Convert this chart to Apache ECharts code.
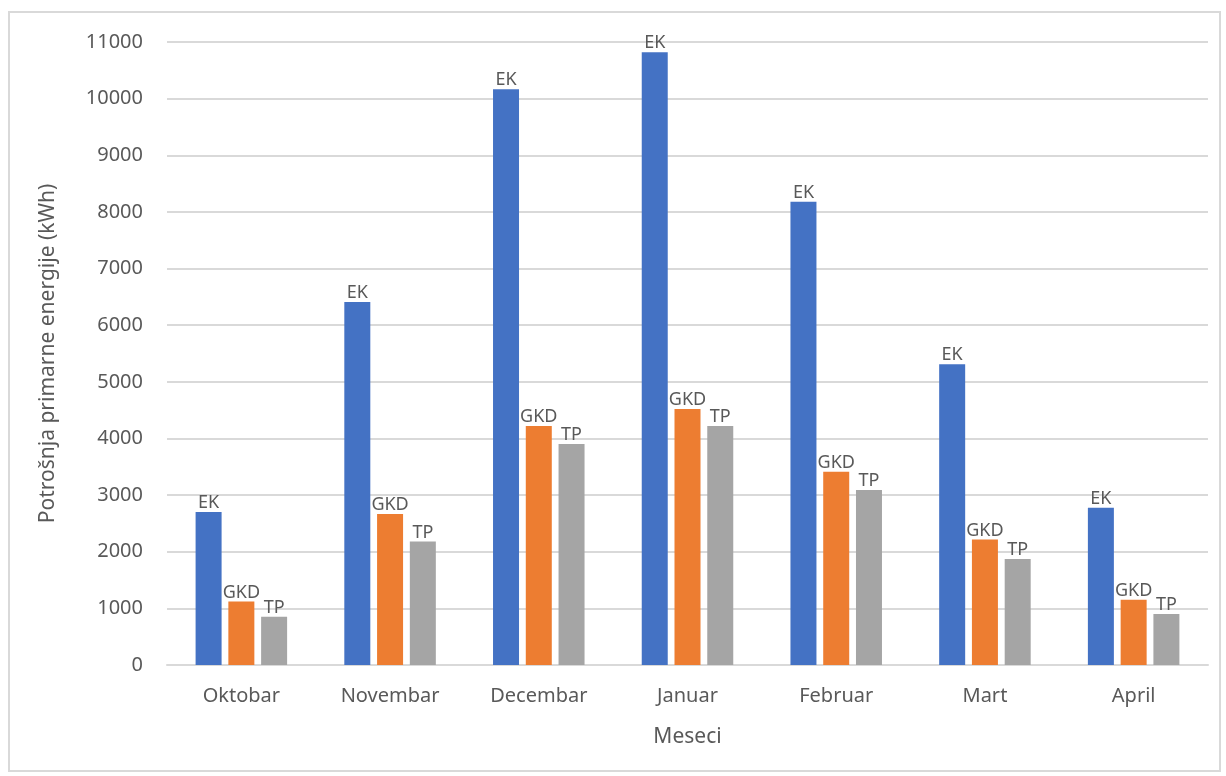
<!DOCTYPE html>
<html>
<head>
<meta charset="utf-8">
<script src="https://cdn.jsdelivr.net/npm/echarts@6/dist/echarts.min.js"></script>
<style>
  html, body { margin: 0; padding: 0; background: #fff; }
  #frame {
    position: absolute; left: 8px; top: 11px;
    width: 1209px; height: 757px;
    border: 2px solid #d9d9d9;
  }
  #chart { position: absolute; left: 0; top: 0; width: 1226px; height: 776px; }
</style>
</head>
<body>
<div id="frame"></div>
<div id="chart"></div>
<script>
// meseci (kategorije)
const months = ["Oktobar", "Novembar", "Decembar", "Januar", "Februar", "Mart", "April"];
// potrošnja primarne energije po sistemu (kWh)
const ekValues  = [2700, 6410, 10165, 10820, 8178, 5310, 2775];
const gkdValues = [1120, 2665, 4220, 4520, 3410, 2215, 1150];
const tpValues  = [850, 2180, 3900, 4220, 3090, 1870, 900];
const seriesNames = ["EK", "GKD", "TP"];

var textColor = "#595959";
var fontName = "Noto Sans";

function makeSeries(name, values, color) {
  return {
    name: name,
    type: "bar",
    barWidth: 26,
    barGap: "26%",
    data: values,
    itemStyle: { color: color },
    label: {
      show: true,
      position: "top",
      distance: 0,
      formatter: name,
      color: textColor,
      fontFamily: fontName,
      fontSize: 18
    }
  };
}

var option = {
  backgroundColor: "transparent",
  animation: false,
  grid: { left: 167, right: 18, top: 42, bottom: 111 },
  xAxis: {
    type: "category",
    data: months,
    name: "Meseci",
    nameLocation: "middle",
    nameGap: 62,
    nameTextStyle: { color: textColor, fontFamily: fontName, fontSize: 21 },
    axisLine: { lineStyle: { color: "#d9d9d9", width: 2 } },
    axisTick: { show: false },
    axisLabel: { color: textColor, fontFamily: fontName, fontSize: 20, margin: 21 }
  },
  yAxis: {
    type: "value",
    min: 0,
    max: 11000,
    interval: 1000,
    name: "Potrošnja primarne energije (kWh)",
    nameLocation: "middle",
    nameGap: 108,
    nameTextStyle: { color: textColor, fontFamily: fontName, fontSize: 21 },
    axisLine: { show: false },
    axisTick: { show: false },
    axisLabel: {
      color: textColor, fontFamily: fontName, fontSize: 20, margin: 24,
      formatter: function (v) { return String(v); }
    },
    splitLine: { lineStyle: { color: "#d9d9d9", width: 2 } }
  },
  series: [
    makeSeries(seriesNames[0], ekValues, "#4472c4"),
    makeSeries(seriesNames[1], gkdValues, "#ed7d31"),
    makeSeries(seriesNames[2], tpValues, "#a5a5a5")
  ]
};

var myChart = echarts.init(document.getElementById("chart"));
myChart.setOption(option);
</script>
</body>
</html>
